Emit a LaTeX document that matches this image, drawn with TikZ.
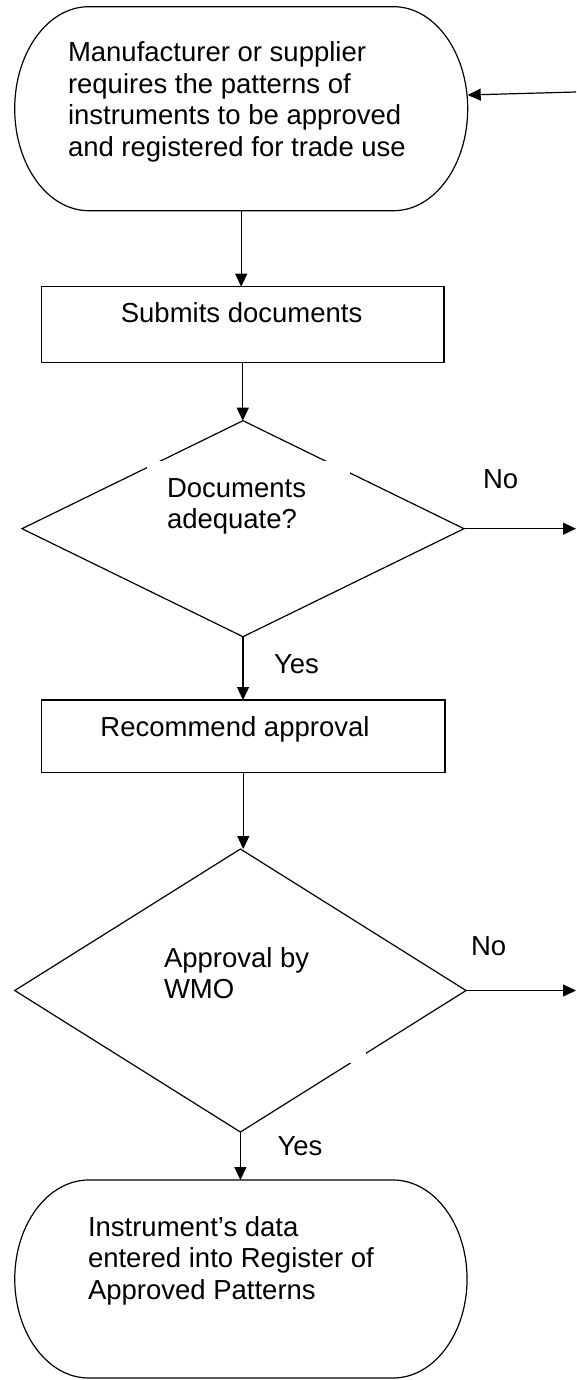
\documentclass[tikz,border=0pt]{standalone}
\usepackage{fontspec}
\setmainfont{Liberation Sans}
\usetikzlibrary{arrows.meta,shapes.geometric}
\begin{document}
\begin{tikzpicture}[x=1pt,y=1pt]
\tikzset{
  conn/.style={draw, line width=1.2pt, -{Triangle[length=13pt,width=12pt]}},
  boxnode/.style={draw, line width=1.2pt, rectangle, inner sep=0pt, outer sep=0pt},
  decision/.style={draw, line width=1.2pt, diamond, inner sep=0pt, outer sep=0pt},
  termframe/.style={rectangle, inner sep=0pt, outer sep=0pt},
  outline/.style={line width=1.2pt},
  lbl/.style={font=\fontsize{27.5pt}{31.5pt}\selectfont, inner sep=0pt, outer sep=0pt},
  para/.style={lbl, align=left, anchor=north west},
}
\useasboundingbox (0,0) rectangle (576,-1380);

% start terminator
\node[termframe, minimum width=453pt, minimum height=204pt] (start) at (241.2,-108.7) {};
\draw[outline] ([xshift=74pt]start.north west) -- ([xshift=-74pt]start.north east)
  arc[start angle=90,end angle=-90,x radius=74pt,y radius=102pt]
  -- ([xshift=74pt]start.south west)
  arc[start angle=270,end angle=90,x radius=74pt,y radius=102pt] -- cycle;
\node[para] (starttext) at (68,-40) {\rule{0pt}{22pt}Manufacturer or supplier\\requires the patterns of\\instruments to be approved\\and registered for trade use};

% submits documents
\node[boxnode, minimum width=402.5pt, minimum height=76pt] (submit) at (242.75,-324.7) {};
\node[lbl, anchor=base] (submittext) at (241.6,-322) {Submits documents};

% decision 1
\node[decision, minimum width=442pt, minimum height=216pt] (check) at (243,-528.7) {};
\fill[white] (147,-461) rectangle (350,-540);
\node[para] (checktext) at (167,-475) {\rule{0pt}{22pt}Documents\\adequate?};

% recommend approval
\node[boxnode, minimum width=403.5pt, minimum height=72.7pt] (rec) at (243.25,-736.35) {};
\node[lbl, anchor=base] (rectext) at (235,-736) {Recommend approval};

% decision 2
\node[decision, minimum width=451.3pt, minimum height=283pt] (wmo) at (240.4,-990.5) {};
\fill[white] (144,-935) rectangle (366,-1063);
\node[para] (wmotext) at (164,-945) {\rule{0pt}{22pt}Approval by\\WMO};

% end terminator
\node[termframe, minimum width=452.3pt, minimum height=198pt] (finish) at (240.9,-1279) {};
\draw[outline] ([xshift=74pt]finish.north west) -- ([xshift=-74pt]finish.north east)
  arc[start angle=90,end angle=-90,x radius=74pt,y radius=99pt]
  -- ([xshift=74pt]finish.south west)
  arc[start angle=270,end angle=90,x radius=74pt,y radius=99pt] -- cycle;
\node[para] (finishtext) at (88,-1214) {\rule{0pt}{22pt}Instrument’s data\\entered into Register of\\Approved Patterns};

% labels
\node[lbl, anchor=base west] (no1) at (483,-488) {No};
\node[lbl, anchor=base west] (yes1) at (274,-673) {Yes};
\node[lbl, anchor=base west] (no2) at (471,-955) {No};
\node[lbl, anchor=base west] (yes2) at (277.6,-1155) {Yes};

% connectors
\coordinate (entry) at (576,-92);
\coordinate (exit1) at (576,-528.7);
\coordinate (exit2) at (576,-990.5);
\draw[conn] (entry) -- ([yshift=13.7pt]start.east);
\draw[conn] (start.south) -- (start.south |- submit.north);
\draw[conn] (submit.south) -- (submit.south |- check.north);
\draw[conn] (check.south) -- (check.south |- rec.north);
\draw[conn] (rec.south) -- (rec.south |- wmo.north);
\draw[conn] (wmo.south) -- (wmo.south |- finish.north);
\draw[conn] (check.east) -- (exit1);
\draw[conn] (wmo.east) -- (exit2);
\end{tikzpicture}
\end{document}
